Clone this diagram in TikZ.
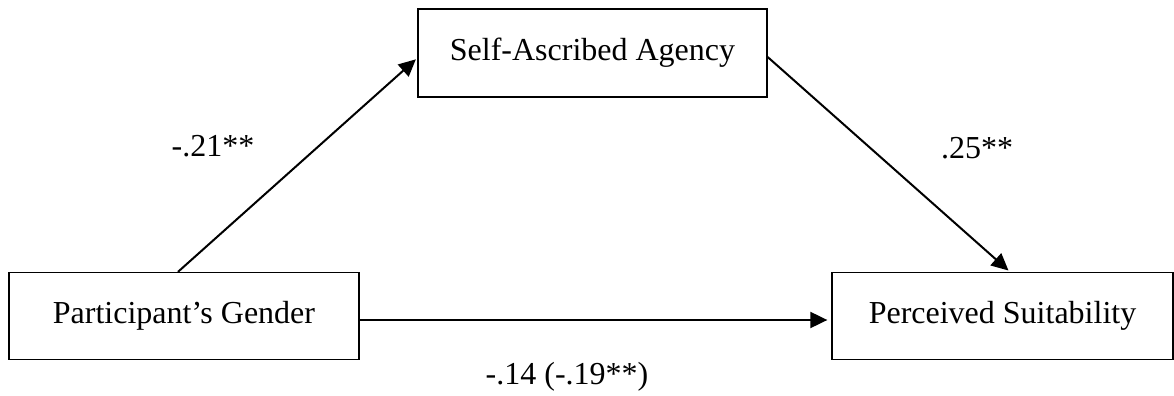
\documentclass[tikz,border=0pt]{standalone}
\usepackage{fontspec}
\setmainfont{Liberation Serif}
\usetikzlibrary{arrows.meta}
\tikzset{
  x=0.5pt, y=-0.5pt,
  varbox/.style={draw, line width=0.65pt, rectangle, minimum height=43.5pt, inner sep=0pt, font=\fontsize{16}{19}\selectfont},
  path/.style={line width=1pt, -{Triangle[length=8.5pt,width=8pt]}, shorten >=1pt},
  lbl/.style={font=\fontsize{16}{19}\selectfont, inner sep=0pt}
}
\begin{document}
\begin{tikzpicture}
\useasboundingbox (0,0) rectangle (1174,396);
\node[varbox, minimum width=175pt] (lg) at (184,316) {Participant’s Gender};
\node[varbox, minimum width=174.5pt, minimum height=44pt] (sa) at (592.5,53) {Self-Ascribed Agency};
\node[varbox, minimum width=170.5pt] (ps) at (1002.5,316) {Perceived Suitability};
\draw[path] ([xshift=-3pt]lg.north) -- ([yshift=-2.5pt]sa.west);
\draw[path] ([yshift=-2pt]sa.east) -- ([xshift=3.75pt]ps.north);
\draw[path, shorten >=2pt] ([yshift=-2pt]lg.east) -- ([yshift=-2pt]ps.west);
\node[lbl] (l1) at (213,146) {-.21**};
\node[lbl] (l2) at (977,148) {.25**};
\node[lbl] (l3) at (567,377) {-.14 (-.19**)};
\end{tikzpicture}
\end{document}
